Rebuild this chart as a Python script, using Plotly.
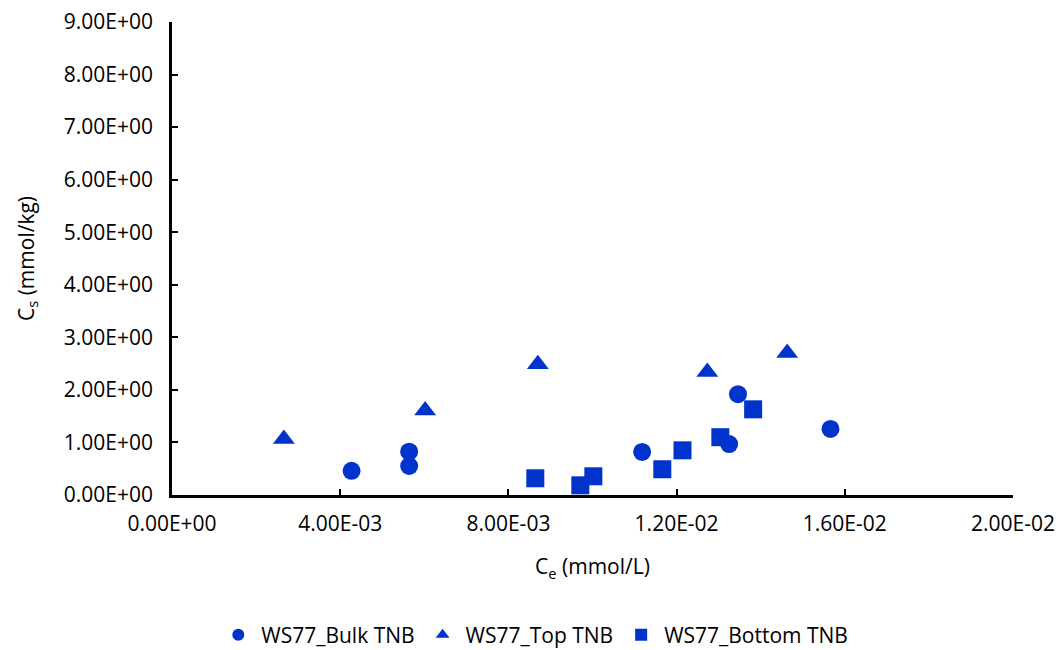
import plotly.graph_objects as go

bulk_x = [0.00427, 0.00564, 0.00564, 0.01118, 0.01346, 0.01325, 0.01566]
bulk_y = [0.46, 0.825, 0.552, 0.82, 1.918, 0.97, 1.257]

top_x = [0.00266, 0.00602, 0.00870, 0.01273, 0.01463]
top_y = [1.067, 1.61, 2.486, 2.339, 2.70]

bottom_x = [0.00864, 0.00971, 0.01002, 0.01166, 0.01214, 0.01304, 0.01382]
bottom_y = [0.318, 0.184, 0.356, 0.49, 0.85, 1.10, 1.63]

x_ticks = [0, 0.004, 0.008, 0.012, 0.016, 0.02]
x_labels = ["0.00E+00", "4.00E-03", "8.00E-03", "1.20E-02", "1.60E-02", "2.00E-02"]
y_ticks = [0, 1, 2, 3, 4, 5, 6, 7, 8, 9]
y_labels = ["0.00E+00", "1.00E+00", "2.00E+00", "3.00E+00", "4.00E+00",
            "5.00E+00", "6.00E+00", "7.00E+00", "8.00E+00", "9.00E+00"]

color = "rgb(0,51,204)"
font = "Open Sans, Lato, sans-serif"

fig = go.Figure()
fig.add_trace(go.Scatter(x=bulk_x, y=bulk_y, mode="markers", name="WS77_Bulk TNB",
                         marker=dict(symbol="circle", size=18, color=color)))
fig.add_trace(go.Scatter(x=top_x, y=top_y, mode="markers", name="WS77_Top TNB",
                         marker=dict(symbol="triangle-up", size=19, color=color)))
fig.add_trace(go.Scatter(x=bottom_x, y=bottom_y, mode="markers", name="WS77_Bottom TNB",
                         marker=dict(symbol="square", size=18, color=color)))

fig.update_layout(
    width=1058, height=650,
    margin=dict(l=172, r=45, t=22, b=155),
    plot_bgcolor="white", paper_bgcolor="white",
    font=dict(family=font, size=21, color="black"),
    showlegend=True,
    legend=dict(orientation="h", xref="container", yref="container",
                x=0.505, xanchor="center", y=0.023, yanchor="middle",
                font=dict(size=21), itemsizing="constant", itemwidth=36),
)
fig.update_xaxes(range=[0, 0.02], tickvals=x_ticks, ticktext=x_labels,
                 showgrid=False, zeroline=False, showline=True, linecolor="black",
                 linewidth=2.5, ticks="inside", ticklen=6, tickwidth=2, tickcolor="black",
                 ticklabelstandoff=8, automargin=False,
                 title=dict(text="C<sub>e</sub> (mmol/L)", standoff=24, font=dict(size=21)))
fig.update_yaxes(range=[0, 9], tickvals=y_ticks, ticktext=y_labels,
                 showgrid=False, zeroline=False, showline=True, linecolor="black",
                 linewidth=2.5, ticks="inside", ticklen=6, tickwidth=2, tickcolor="black",
                 ticklabelstandoff=12, automargin=False,
                 title=dict(text="C<sub>s</sub> (mmol/kg)", standoff=24, font=dict(size=21)))

fig.write_html("out.html")
